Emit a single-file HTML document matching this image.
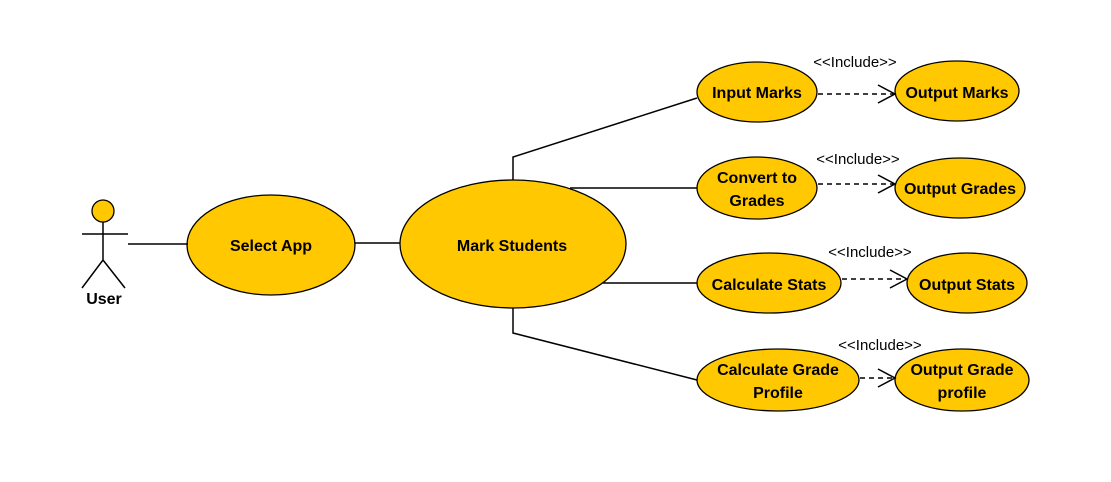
<!DOCTYPE html>
<html><head><style>body{margin:0;background:#fff}svg{display:block}
.t{font-family:"Liberation Sans",sans-serif;font-size:16px;font-weight:bold;fill:#000;text-anchor:middle}
.i{font-family:"Liberation Sans",sans-serif;font-size:15px;fill:#000;text-anchor:middle}
</style></head><body>
<svg width="1111" height="482" viewBox="0 0 1111 482" xmlns="http://www.w3.org/2000/svg">
<g fill="#FFC800" stroke="#000" stroke-width="1.3">
<circle cx="103" cy="211" r="11"/>
<ellipse cx="271" cy="245" rx="84" ry="50"/>
<ellipse cx="513" cy="244" rx="113" ry="64"/>
<ellipse cx="757" cy="92" rx="60" ry="30"/>
<ellipse cx="957" cy="91" rx="62" ry="30"/>
<ellipse cx="757" cy="188" rx="60" ry="31"/>
<ellipse cx="960" cy="188" rx="65" ry="30"/>
<ellipse cx="769" cy="283" rx="72" ry="30"/>
<ellipse cx="967" cy="283" rx="60" ry="30"/>
<ellipse cx="778" cy="380" rx="81" ry="31"/>
<ellipse cx="962" cy="380" rx="67" ry="31"/>
</g>
<g fill="none" stroke="#000" stroke-width="1.5">
<path d="M82 234H128M103 222V260L82 288M103 260L125 288"/>
<path d="M128 244H188M355 243H400"/>
<path d="M513 180V157L697 98M570 188H697M603 283H697M513 308V333L697 380"/>
<g stroke-dasharray="5,4"><path d="M818 94H895M818 184H895M842 279H907M860 378H895"/></g>
<path d="M878 85L895 94L878 103M878 175L895 184L878 193M890 270L907 279L890 288M878 369L895 378L878 387"/>
</g>
<text class="t" x="104" y="304">User</text>
<text class="t" x="271" y="251">Select App</text>
<text class="t" x="512" y="251">Mark Students</text>
<text class="t" x="757" y="98">Input Marks</text>
<text class="t" x="957" y="98">Output Marks</text>
<text class="t" x="757" y="183">Convert to</text>
<text class="t" x="757" y="206">Grades</text>
<text class="t" x="960" y="194">Output Grades</text>
<text class="t" x="769" y="290">Calculate Stats</text>
<text class="t" x="967" y="290">Output Stats</text>
<text class="t" x="778" y="375">Calculate Grade</text>
<text class="t" x="778" y="398">Profile</text>
<text class="t" x="962" y="375">Output Grade</text>
<text class="t" x="962" y="398">profile</text>
<text class="i" x="855" y="67">&lt;&lt;Include&gt;&gt;</text>
<text class="i" x="858" y="164">&lt;&lt;Include&gt;&gt;</text>
<text class="i" x="870" y="257">&lt;&lt;Include&gt;&gt;</text>
<text class="i" x="880" y="350">&lt;&lt;Include&gt;&gt;</text>
</svg>
</body></html>
